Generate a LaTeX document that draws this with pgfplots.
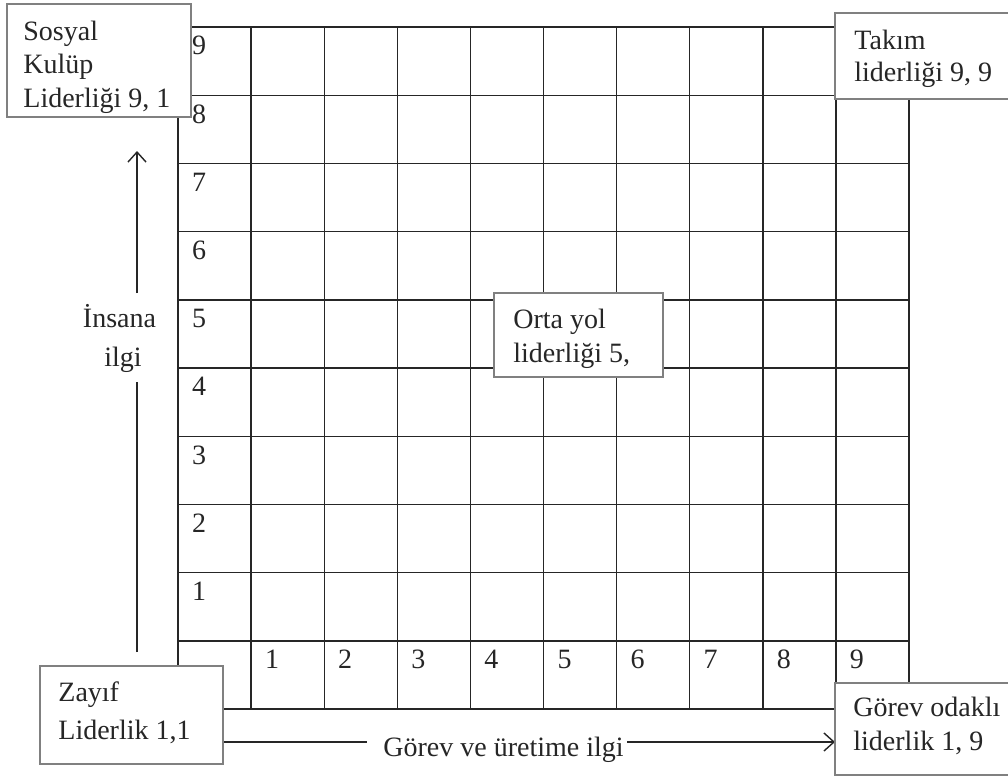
\documentclass[border=0pt]{standalone}
\usepackage{pgfplots}
\pgfplotsset{compat=1.18}
\usepackage{pgfplotstable}
\usepackage{fontspec}
\setmainfont{Liberation Serif}
\usetikzlibrary{arrows.meta}
\definecolor{txt}{HTML}{262626}
\definecolor{boxc}{HTML}{808080}
\pgfplotstableread{
x y label
0 10 9
0 9 8
0 8 7
0 7 6
0 6 5
0 5 4
0 4 3
0 3 2
0 2 1
1 1 1
2 1 2
3 1 3
4 1 4
5 1 5
6 1 6
7 1 7
8 1 8
9 1 9
}\celllabels
\begin{document}
\fontsize{14}{16.5}\selectfont
\begin{tikzpicture}[x=0.5pt,y=-0.5pt]
\clip (0,0) rectangle (1008,776);
\fill[white] (0,0) rectangle (1008,776);
\begin{axis}[at={(89pt,-354.5pt)}, anchor=south west, scale only axis,
  width=365.5pt, height=341pt,
  xmin=0, xmax=10, ymin=0, ymax=10,
  xtick={0,...,10}, ytick={0,...,10},
  xticklabels={}, yticklabels={},
  major tick length=0pt,
  grid=major,
  grid style={txt, line width=0.7pt},
  axis line style={txt, line width=0.7pt},
  clip=false]
\addplot[draw=none, mark=none, nodes near coords, point meta=explicit symbolic,
  every node near coord/.append style={anchor=north west, inner sep=0pt,
    xshift=6.8pt, yshift=-4.5pt, text=txt, font=\fontsize{14}{16.5}\selectfont}]
  table[x=x, y=y, meta=label] {\celllabels};
\end{axis}
% arrows
\draw[txt, line width=0.7pt] (137,652) -- (137,382);
\draw[txt, line width=0.7pt, -{Straight Barb[length=5pt,width=9pt]}] (137,293) -- (137,151);
\draw[txt, line width=0.7pt] (223,742) -- (367,742);
\draw[txt, line width=0.7pt, -{Straight Barb[length=5pt,width=9pt]}] (627,742) -- (835,742);
% boxes
\draw[boxc, line width=0.6pt, fill=white] (7,4) rectangle (191,117);
\draw[boxc, line width=0.6pt, fill=white] (835,13) rectangle (1015,99);
\draw[boxc, line width=0.6pt, fill=white] (40,666) rectangle (223,764);
\draw[boxc, line width=0.6pt, fill=white] (835,683) rectangle (1015,775);
\draw[boxc, line width=0.6pt, fill=white] (494,293) rectangle (663,377);
% texts
\begin{scope}[every node/.style={inner sep=0pt, text=txt}]
\node[anchor=base west] at (23,40) {Sosyal};
\node[anchor=base west] at (23,73) {Kulüp};
\node[anchor=base west] at (23,107) {Liderliği 9, 1};
\node[anchor=base west] at (854,49) {Takım};
\node[anchor=base west] at (854,82) {liderliği 9, 9};
\node[anchor=base west] at (58,701) {Zayıf};
\node[anchor=base west] at (58,739) {Liderlik 1,1};
\node[anchor=base west] at (853,716) {Görev odaklı};
\node[anchor=base west] at (853,750) {liderlik 1, 9};
\node[anchor=base west] at (513,328) {Orta yol};
\node[anchor=base west] at (513,362) {liderliği 5,};
\node[anchor=base] at (119.5,327) {İnsana};
\node[anchor=base] at (123,366) {ilgi};
\node[anchor=base west] at (383,756) {Görev ve üretime ilgi};
\end{scope}
\end{tikzpicture}
\end{document}
